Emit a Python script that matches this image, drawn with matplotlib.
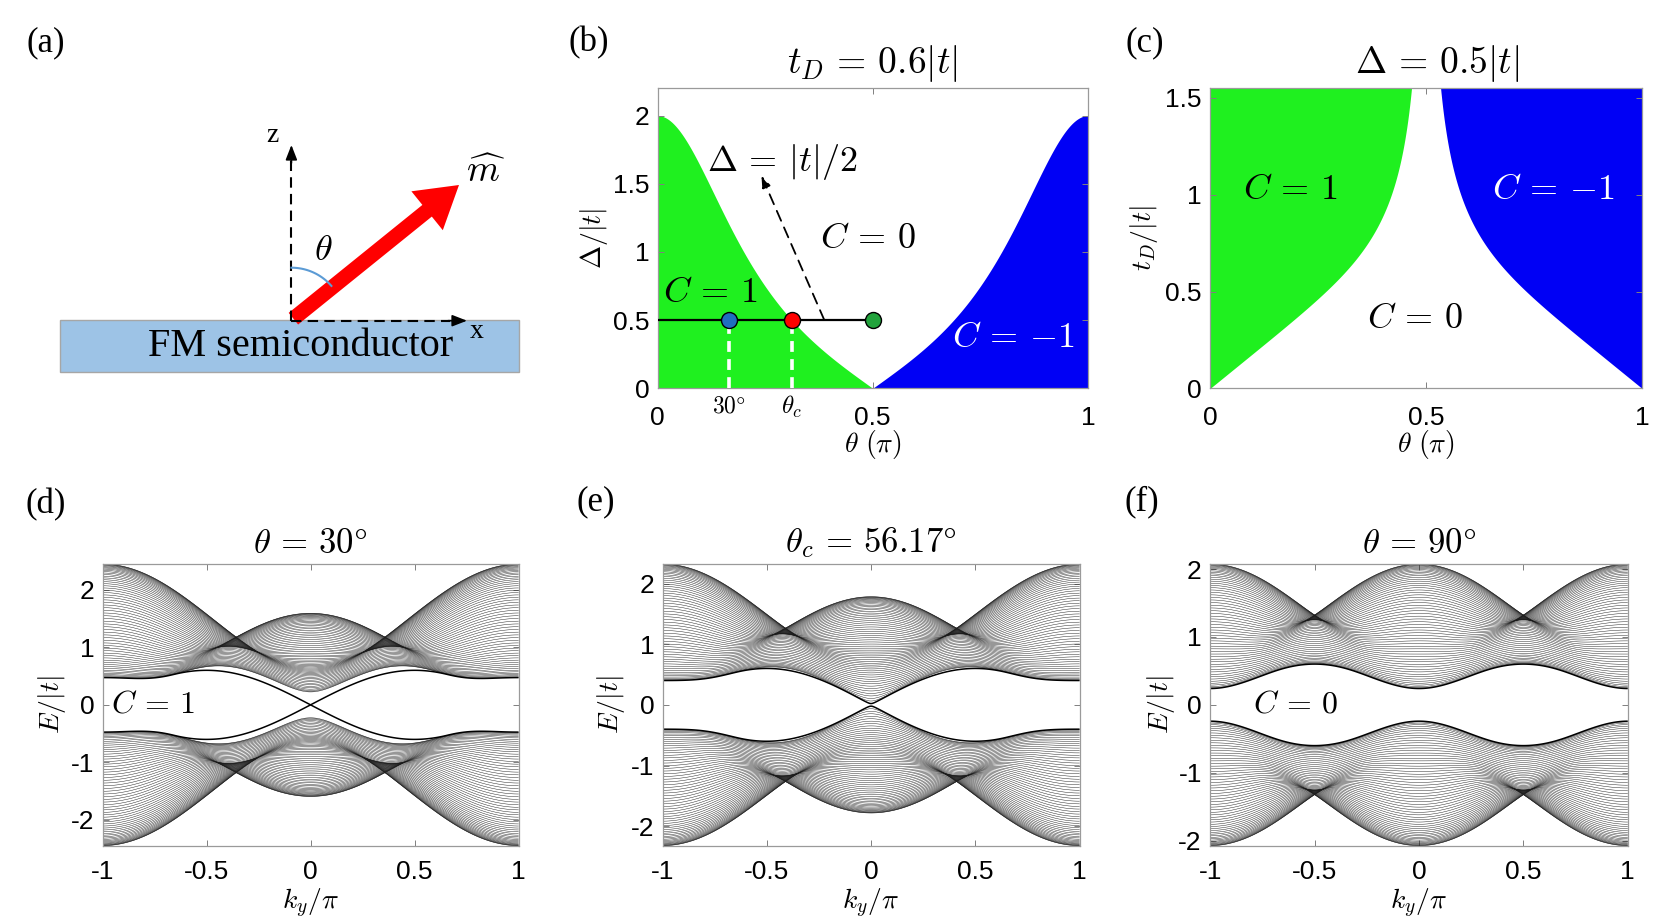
import numpy as np
import matplotlib
matplotlib.use("Agg")
import matplotlib.pyplot as plt
from matplotlib.patches import Rectangle, FancyArrow
from matplotlib.collections import LineCollection

# ---------------- data / model parameters ----------------
t_hop = 1.0                      # |t|
tD_phase_b = 0.6                 # panel (b): t_D = 0.6|t|
Delta_phase_c = 0.5              # panel (c): Delta = 0.5|t|
Delta_bands = 0.5                # panels (d)-(f)
tD_bands = 0.6
theta_deg_bands = [30.0, 56.17, 90.0]
band_titles = [r"$\theta\,=\,30\degree$", r"$\theta_c\,=\,56.17\degree$", r"$\theta\,=\,90\degree$"]
band_chern = [r"$C\,=\,1$", None, r"$C\,=\,0$"]
marker_theta_deg = [30.0, 56.17, 90.0]
marker_colors = ["#1f6fbf", "#ff0000", "#22a33c"]
N_sites = 60
n_ky = 401

xticks_phase = [0, 0.5, 1]
xticklabels_phase = ["0", "0.5", "1"]
yticks_b = [0, 0.5, 1, 1.5, 2]
yticklabels_b = ["0", "0.5", "1", "1.5", "2"]
yticks_c = [0, 0.5, 1, 1.5]
yticklabels_c = ["0", "0.5", "1", "1.5"]
xticks_k = [-1, -0.5, 0, 0.5, 1]
xticklabels_k = ["-1", "-0.5", "0", "0.5", "1"]
yticks_E = [-2, -1, 0, 1, 2]
yticklabels_E = ["-2", "-1", "0", "1", "2"]

plt.rcParams["font.family"] = ["Liberation Sans", "DejaVu Sans"]
plt.rcParams["mathtext.fontset"] = "cm"

W, H = 1675, 923
fig = plt.figure(figsize=(W / 100, H / 100), dpi=100)


def add_ax(x0, y0, x1, y1):
    return fig.add_axes([x0 / W, 1 - y1 / H, (x1 - x0) / W, (y1 - y0) / H])


def style(ax, xt, xtl, yt, ytl, xpad):
    ax.set_xticks(xt)
    ax.set_xticklabels(xtl)
    ax.set_yticks(yt)
    ax.set_yticklabels(ytl)
    ax.tick_params(direction="in", top=True, right=True, length=4, width=0.7,
                   color="#808080", labelsize=19, labelcolor="black")
    ax.tick_params(axis="x", pad=xpad)
    ax.tick_params(axis="y", pad=6)
    for s in ax.spines.values():
        s.set_color("#9a9a9a")
        s.set_linewidth(0.9)


# ---------------- panel (a): schematic ----------------
ax0 = fig.add_axes([0, 0, 1, 1], zorder=-5)
ax0.set_xlim(0, W)
ax0.set_ylim(H, 0)
ax0.axis("off")
ox, oy = 291.4, 320.7
ax0.add_patch(Rectangle((60, 319.5), 459, 52.5, facecolor="#9dc3e6",
                        edgecolor="#a6a6a6", lw=1.0))
ax0.text(301, 347, "FM semiconductor", fontsize=29, family="Liberation Serif",
         ha="center", va="center")
ax0.plot([ox, ox], [oy, 160], "k--", lw=1.5, dashes=(5, 3))
ax0.annotate("", xy=(ox, 145), xytext=(ox, 163),
             arrowprops=dict(arrowstyle="-|>,head_length=0.9,head_width=0.35",
                             color="k", lw=1.2, shrinkA=0, shrinkB=0))
ax0.plot([ox, 450], [oy, oy], "k--", lw=1.5, dashes=(5, 3))
ax0.annotate("", xy=(467, oy), xytext=(448, oy),
             arrowprops=dict(arrowstyle="-|>,head_length=0.9,head_width=0.35",
                             color="k", lw=1.2, shrinkA=0, shrinkB=0))
ax0.text(272, 135, "z", fontsize=20, family="Liberation Serif", ha="center", va="center")
ax0.text(477, 331, "x", fontsize=20, family="Liberation Serif", ha="center", va="center")
phi = np.radians(np.linspace(0, 49, 50))
ax0.plot(ox + 53 * np.sin(phi), oy - 53 * np.cos(phi), color="#5b9bd5", lw=1.5)
ax0.add_patch(FancyArrow(ox + 2, oy - 2, 459 - ox - 2, 185 - oy + 2, width=15,
                         head_width=50, head_length=41, length_includes_head=True,
                         color="#ff0000", lw=0))
ax0.text(323, 250, r"$\theta$", fontsize=26, ha="center", va="center")
ax0.text(486, 172, r"$\widehat{m}$", fontsize=27, ha="center", va="center")

# panel labels
for lab, (x, y) in zip(["(a)", "(b)", "(c)", "(d)", "(e)", "(f)"],
                       [(46, 43), (589, 43), (1145, 43), (46, 505), (596, 502), (1142, 502)]):
    fig.text(x / W, 1 - y / H, lab, fontsize=25, family="Liberation Serif",
             ha="center", va="center")

# ---------------- panel (b) ----------------
axb = add_ax(657.5, 88.3, 1087.9, 388.3)
th = np.linspace(0, 1, 1201)
c, s = np.cos(np.pi * th), np.sin(np.pi * th)
Dc = 2 * np.abs(c) / (c ** 2 + s ** 2 / tD_phase_b ** 2)
left = th <= 0.5
axb.fill_between(th[left], 0, Dc[left], color="#1ff01f", lw=0)
axb.fill_between(th[~left], 0, Dc[~left], color="#0000f5", lw=0)
axb.set_xlim(0, 1)
axb.set_ylim(0, 2.2)
style(axb, xticks_phase, xticklabels_phase, yticks_b, yticklabels_b, 13)
axb.plot([0, 0.5], [Delta_bands, Delta_bands], "k-", lw=1.6, zorder=3)
for tdeg, col in zip(marker_theta_deg, marker_colors):
    xx = tdeg / 180
    if tdeg < 90:
        axb.plot([xx, xx], [0, Delta_bands], color="white", lw=2.6, ls=(0, (3, 2)), zorder=3)
    axb.plot(xx, Delta_bands, "o", ms=11.5, mfc=col, mec="k", mew=1.0, zorder=5, clip_on=False)
axb.annotate("", xy=(0.2415, 1.56), xytext=(0.3876, Delta_bands),
             arrowprops=dict(arrowstyle="-|>,head_length=0.7,head_width=0.25",
                             color="k", lw=1.3, ls=(0, (6, 4)), shrinkA=0, shrinkB=0))
axb.text(0.122, 0.70, r"$C\,=\,1$", fontsize=26, ha="center", va="center")
axb.text(0.488, 1.10, r"$C\,=\,0$", fontsize=26, ha="center", va="center")
axb.text(0.826, 0.37, r"$C\,=\,{-1}$", fontsize=26, ha="center", va="center", color="white")
axb.text(0.289, 1.66, r"$\Delta\,=\,|t|/2$", fontsize=26, ha="center", va="center")
axb.text(marker_theta_deg[0] / 180, -0.135, r"$30\degree$", fontsize=17, ha="center", va="center")
axb.text(marker_theta_deg[1] / 180, -0.135, r"$\theta_c$", fontsize=18, ha="center", va="center")
axb.text(0.5, 1.084, r"$t_D\,=\,0.6|t|$", fontsize=27, ha="center", va="center",
         transform=axb.transAxes)
axb.set_xlabel(r"$\theta\ (\pi)$", fontsize=20, va="center")
axb.xaxis.set_label_coords(0.5, -0.189)
axb.set_ylabel(r"$\Delta/|t|$", fontsize=20, va="center")
axb.yaxis.set_label_coords(-0.148, 0.5)

# ---------------- panel (c) ----------------
axc = add_ax(1210.2, 88.3, 1641.9, 388.3)
ymax_c = 1.55
thc = np.linspace(0.0005, 0.9995, 2000)
cc, sc = np.cos(np.pi * thc), np.sin(np.pi * thc)
den = 2 * np.abs(cc) / Delta_phase_c - cc ** 2
tDc = np.where(den > 0, sc / np.sqrt(np.clip(den, 1e-12, None)), 10.0)
tDc = np.minimum(tDc, ymax_c)
lc = thc < 0.5
axc.fill_between(np.r_[0, thc[lc]], np.r_[0, tDc[lc]], ymax_c, color="#1ff01f", lw=0)
axc.fill_between(np.r_[thc[~lc], 1], np.r_[tDc[~lc], 0], ymax_c, color="#0000f5", lw=0)
axc.set_xlim(0, 1)
axc.set_ylim(0, ymax_c)
style(axc, xticks_phase, xticklabels_phase, yticks_c, yticklabels_c, 13)
axc.text(0.185, 1.025, r"$C\,=\,1$", fontsize=26, ha="center", va="center")
axc.text(0.795, 1.025, r"$C\,=\,{-1}$", fontsize=26, ha="center", va="center", color="white")
axc.text(0.473, 0.363, r"$C\,=\,0$", fontsize=26, ha="center", va="center")
axc.text(0.525, 1.084, r"$\Delta\,=\,0.5|t|$", fontsize=27, ha="center", va="center",
         transform=axc.transAxes)
axc.set_xlabel(r"$\theta\ (\pi)$", fontsize=20, va="center")
axc.xaxis.set_label_coords(0.5, -0.189)
axc.set_ylabel(r"$t_D/|t|$", fontsize=20, va="center")
axc.yaxis.set_label_coords(-0.153, 0.5)

# ---------------- panels (d)-(f): ribbon spectra ----------------
sx = np.array([[0, 1], [1, 0]], dtype=complex)
sy = np.array([[0, -1j], [1j, 0]], dtype=complex)
sz = np.array([[1, 0], [0, -1]], dtype=complex)


def ribbon(theta_deg, kys):
    th_r = np.radians(theta_deg)
    dx0 = Delta_bands * np.sin(th_r)
    dz0 = Delta_bands * np.cos(th_r)
    T = -(t_hop / 2) * sz - 1j * (tD_bands / 2) * sx
    hop = np.kron(np.eye(N_sites, k=1), T) + np.kron(np.eye(N_sites, k=-1), T.conj().T)
    out = []
    for ky in kys:
        h0 = dx0 * sx + tD_bands * np.sin(ky) * sy + (dz0 - t_hop * np.cos(ky)) * sz
        Hm = np.kron(np.eye(N_sites), h0) + hop
        out.append(np.linalg.eigvalsh(Hm))
    return np.array(out)


ky = np.linspace(-np.pi, np.pi, n_ky)
band_axes_px = [(102.5, 564, 518.6, 845.7), (662.5, 564, 1079.6, 845.7),
                (1210.2, 564, 1627.8, 845.7)]
ylab_x = [-0.122, -0.1225, -0.119]
chern_pos = [(-0.756, 0.0), None, (-0.591, 0.0)]
for i, thd in enumerate(theta_deg_bands):
    ax = add_ax(*band_axes_px[i])
    E = ribbon(thd, ky)
    kk = ky / np.pi
    nb = E.shape[1]
    mid = [nb // 2 - 1, nb // 2]
    segs = [np.column_stack([kk, E[:, n]]) for n in range(nb) if n not in mid]
    ax.add_collection(LineCollection(segs, colors="#1a1a1a", linewidths=0.32))
    segs_mid = [np.column_stack([kk, E[:, n]]) for n in mid]
    ax.add_collection(LineCollection(segs_mid, colors="k", linewidths=1.1))
    emax = np.abs(E).max()
    ax.set_xlim(-1, 1)
    ax.set_ylim(-emax, emax)
    style(ax, xticks_k, xticklabels_k, yticks_E, yticklabels_E, 10)
    ax.text(0.5, 1.0745, band_titles[i], fontsize=25, ha="center", va="center",
            transform=ax.transAxes)
    ax.set_xlabel(r"$k_y/\pi$", fontsize=20, va="center")
    ax.xaxis.set_label_coords(0.5, -0.2045)
    ax.set_ylabel(r"$E/|t|$", fontsize=20, va="center")
    ax.yaxis.set_label_coords(ylab_x[i], 0.5)
    if band_chern[i] is not None:
        ax.text(chern_pos[i][0], chern_pos[i][1], band_chern[i], fontsize=23,
                ha="center", va="center")

fig.savefig("out.png", dpi=100)
